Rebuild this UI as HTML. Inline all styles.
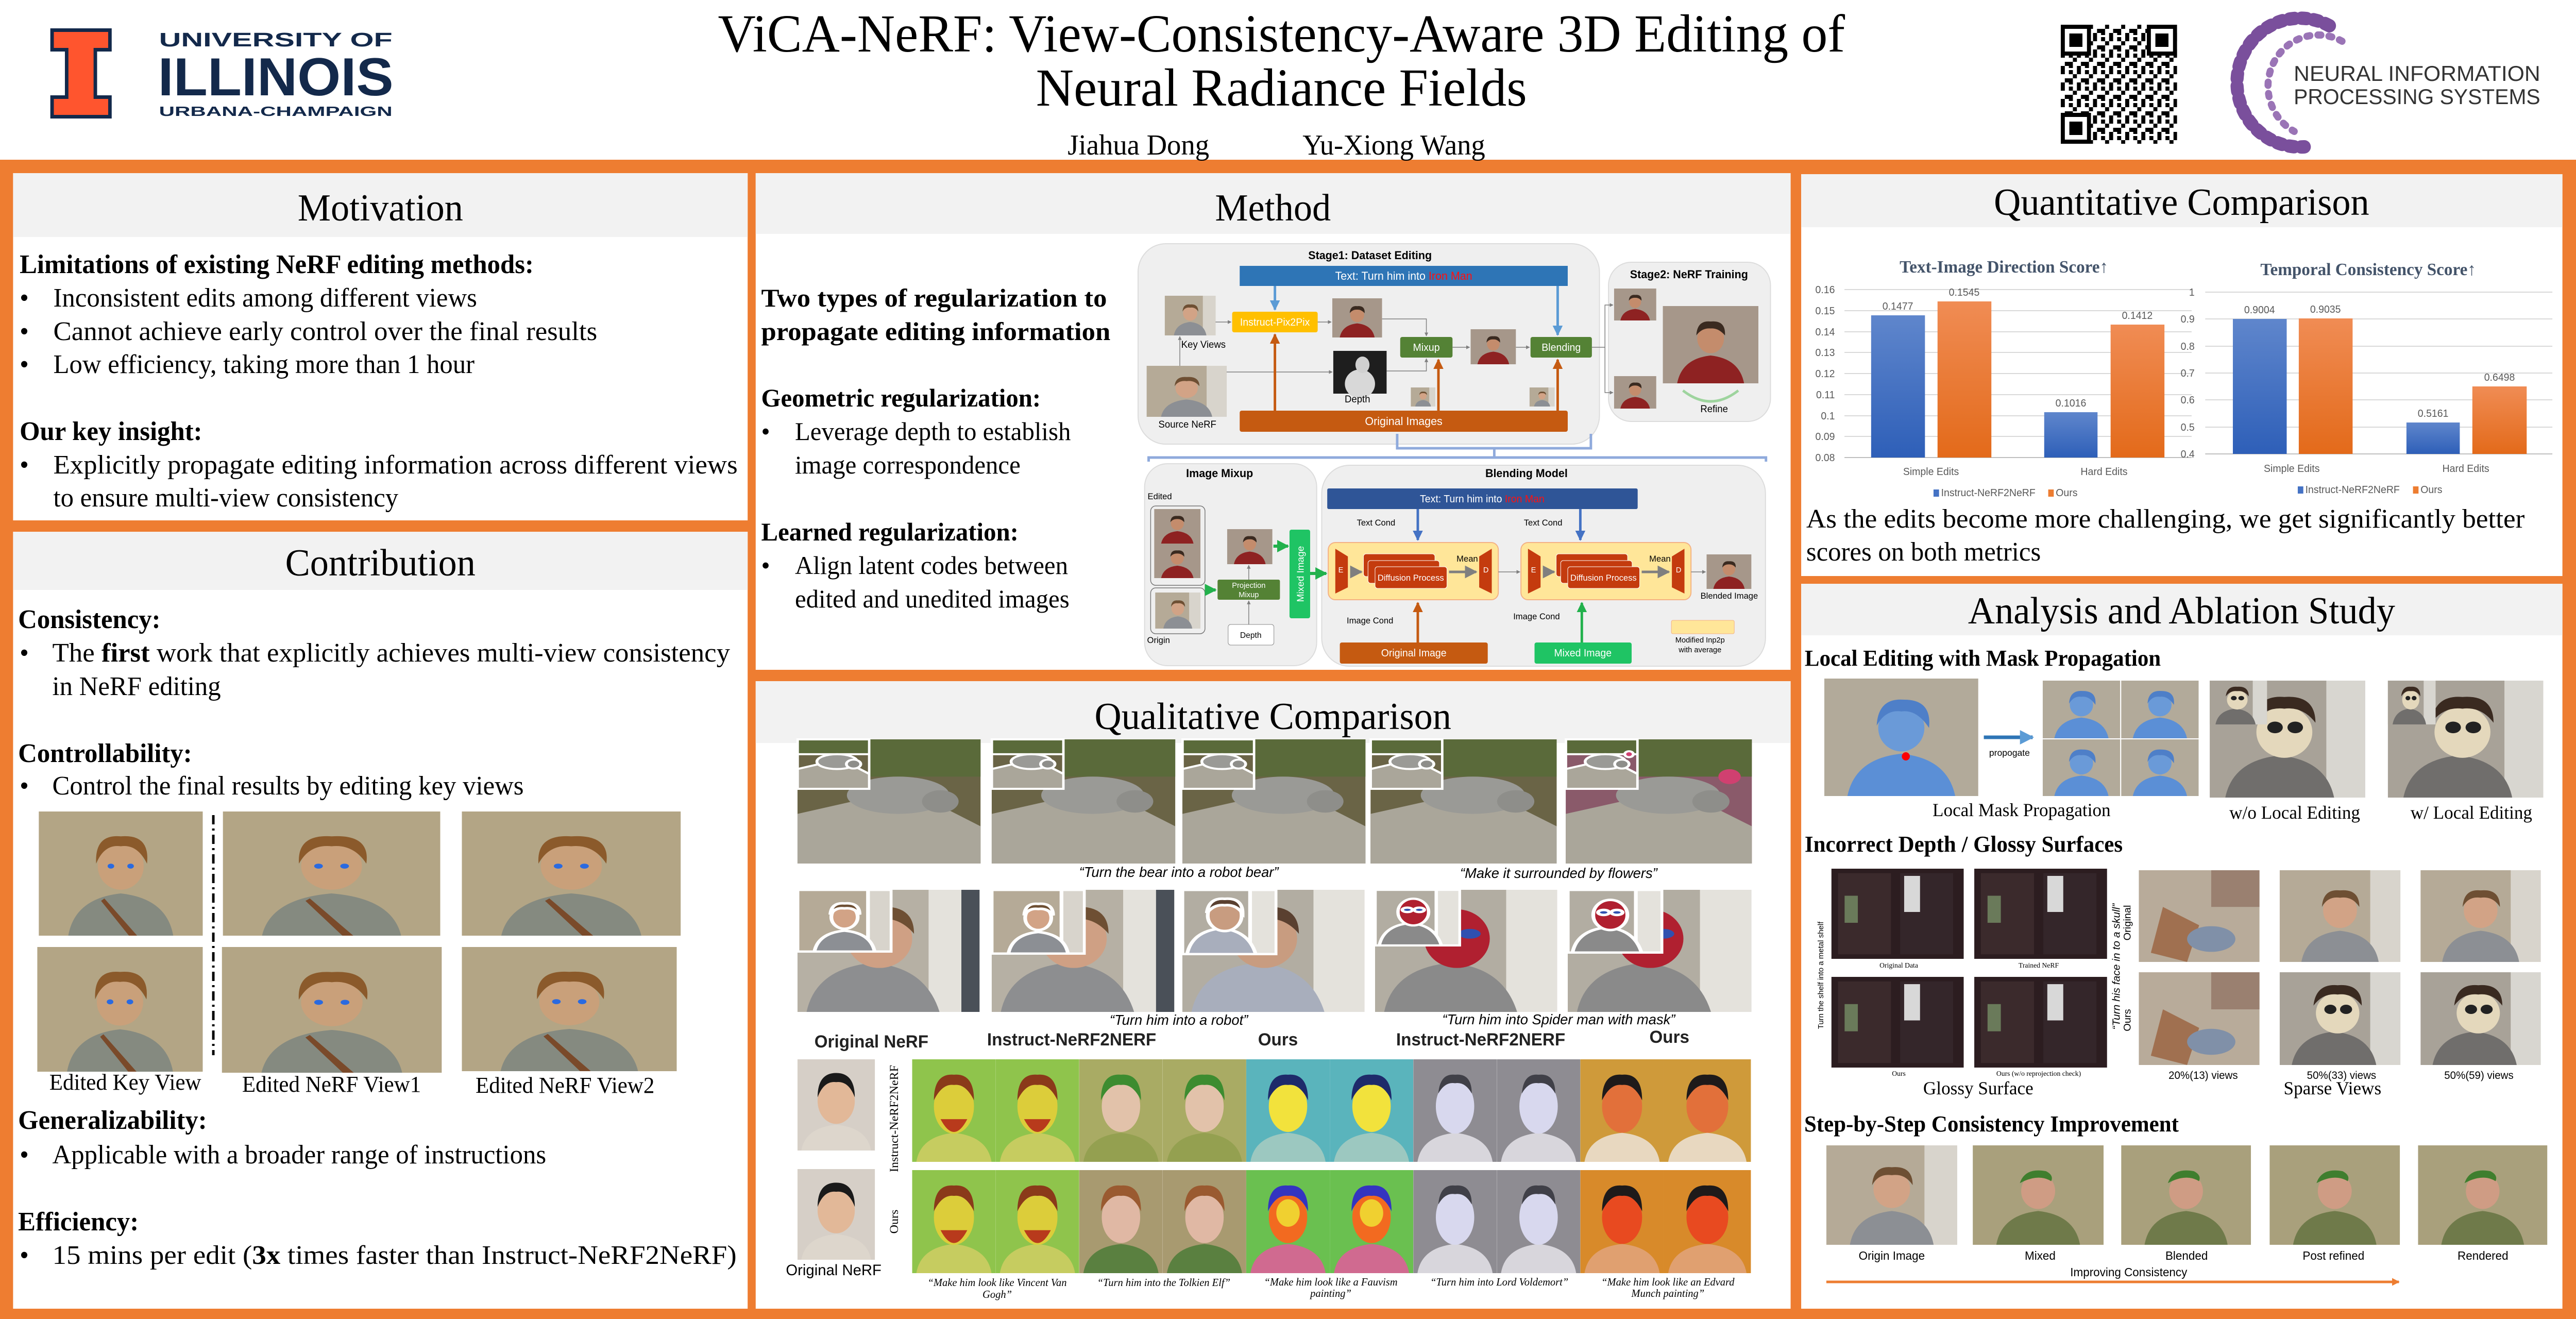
<!DOCTYPE html>
<html><head><meta charset="utf-8"><style>
html,body{margin:0;padding:0;background:#fff;overflow:hidden;width:100%;height:100%}
svg{display:block;width:100vw;height:100vh;position:absolute;left:0;top:0}
.s{font-family:"Liberation Serif",serif}
.a{font-family:"Liberation Sans",sans-serif}
</style></head><body>
<svg viewBox="0 0 5120 2560" preserveAspectRatio="none" xmlns="http://www.w3.org/2000/svg">
<defs>
<marker id="ag" viewBox="0 0 10 10" refX="9" refY="5" markerWidth="5" markerHeight="5" orient="auto"><path d="M0 0L10 5L0 10z" fill="#7f7f7f"/></marker>
<marker id="ab" viewBox="0 0 10 10" refX="9" refY="5" markerWidth="4" markerHeight="4" orient="auto"><path d="M0 0L10 5L0 10z" fill="#5b9bd5"/></marker>
<marker id="ab2" viewBox="0 0 10 10" refX="9" refY="5" markerWidth="4" markerHeight="4" orient="auto"><path d="M0 0L10 5L0 10z" fill="#4472c4"/></marker>
<marker id="ao" viewBox="0 0 10 10" refX="9" refY="5" markerWidth="4" markerHeight="4" orient="auto"><path d="M0 0L10 5L0 10z" fill="#c55a11"/></marker>
<marker id="agr" viewBox="0 0 10 10" refX="9" refY="5" markerWidth="4" markerHeight="4" orient="auto"><path d="M0 0L10 5L0 10z" fill="#22b14c"/></marker>
<marker id="aor" viewBox="0 0 10 10" refX="9" refY="5" markerWidth="3" markerHeight="3" orient="auto"><path d="M0 0L10 5L0 10z" fill="#ed7d31"/></marker>
<pattern id="qr" width="32" height="32" patternUnits="userSpaceOnUse">
<rect width="32" height="32" fill="#fff"/><rect x="0" y="0" width="8" height="16" fill="#000"/><rect x="16" y="8" width="8" height="8" fill="#000"/><rect x="8" y="24" width="16" height="8" fill="#000"/><rect x="24" y="16" width="8" height="8" fill="#000"/><rect x="16" y="0" width="8" height="4" fill="#000"/></pattern>
<symbol id="man" viewBox="0 0 100 100" preserveAspectRatio="none"><rect width="100" height="100" fill="#b5aa97"/><rect x="75" width="25" height="100" fill="#d8d4cc"/><path d="M18 100Q22 70 50 66Q78 70 82 100Z" fill="#8c8f94"/><ellipse cx="50" cy="44" rx="14" ry="19" fill="#d2a386"/><path d="M35 40Q36 20 50 22Q66 20 66 40Q60 28 50 30Q40 28 35 40Z" fill="#6e4f33"/></symbol>
<symbol id="elf" viewBox="0 0 100 100" preserveAspectRatio="none"><rect width="100" height="100" fill="#b3a585"/><path d="M18 100Q22 70 50 66Q78 70 82 100Z" fill="#858a80"/><path d="M40 70L60 100L55 100L38 72Z" fill="#7a4a2a"/><ellipse cx="50" cy="44" rx="14" ry="19" fill="#c9a07a"/><path d="M35 42Q34 18 50 20Q68 18 66 42Q60 26 50 28Q40 26 35 42Z" fill="#8b5a2b"/><circle cx="44" cy="44" r="2" fill="#2a6ae0"/><circle cx="56" cy="44" r="2" fill="#2a6ae0"/></symbol>
<symbol id="elfg" viewBox="0 0 100 100" preserveAspectRatio="none"><rect width="100" height="100" fill="#a9a07c"/><path d="M18 100Q22 70 50 66Q78 70 82 100Z" fill="#6f7a4a"/><ellipse cx="50" cy="46" rx="13" ry="18" fill="#cf9c84"/><path d="M36 38Q40 22 56 26Q62 30 60 36Q50 28 36 38Z" fill="#3f7e2e"/></symbol>
<symbol id="iron" viewBox="0 0 100 100" preserveAspectRatio="none"><rect width="100" height="100" fill="#a6978a"/><path d="M15 100Q20 68 50 64Q80 68 85 100Z" fill="#8e2222"/><ellipse cx="50" cy="42" rx="14" ry="19" fill="#c48c6c"/><path d="M35 38Q36 18 50 20Q66 18 65 38Q58 28 50 29Q41 28 35 38Z" fill="#3a2a20"/></symbol>
<symbol id="bear" viewBox="0 0 100 100" preserveAspectRatio="none"><rect width="100" height="100" fill="#6a6446"/><rect width="100" height="30" fill="#5a6a3a"/><path d="M0 60L60 40L100 70L100 100L0 100Z" fill="#aaa69a"/><ellipse cx="55" cy="45" rx="28" ry="15" fill="#9a9a96"/><ellipse cx="78" cy="50" rx="10" ry="9" fill="#8e8e8a"/></symbol>
<symbol id="bearf" viewBox="0 0 100 100" preserveAspectRatio="none"><rect width="100" height="100" fill="#8a5a6a"/><rect width="100" height="30" fill="#5a6a3a"/><path d="M0 60L60 40L100 70L100 100L0 100Z" fill="#aaa69a"/><ellipse cx="55" cy="45" rx="28" ry="15" fill="#9a9a96"/><ellipse cx="78" cy="50" rx="10" ry="9" fill="#8e8e8a"/><circle cx="88" cy="30" r="6" fill="#d04070"/></symbol>
<symbol id="bman" viewBox="0 0 100 100" preserveAspectRatio="none"><rect width="100" height="100" fill="#b6b0a4"/><rect x="72" width="28" height="100" fill="#e4e2dc"/><rect x="90" width="10" height="100" fill="#4a5058"/><path d="M5 100Q10 65 40 60Q70 62 78 100Z" fill="#8d8e90"/><ellipse cx="45" cy="40" rx="18" ry="24" fill="#cfa084"/><path d="M26 36Q28 12 45 14Q64 12 64 36Q56 22 45 24Q34 22 26 36Z" fill="#6e4f33"/></symbol>
<symbol id="robot" viewBox="0 0 100 100" preserveAspectRatio="none"><rect width="100" height="100" fill="#b2ada2"/><rect x="72" width="28" height="100" fill="#e4e2dc"/><path d="M5 100Q10 65 40 60Q70 62 78 100Z" fill="#a8aebc"/><ellipse cx="45" cy="40" rx="18" ry="24" fill="#c89c80"/><path d="M26 36Q28 12 45 14Q64 12 64 36Q56 22 45 24Q34 22 26 36Z" fill="#5a4030"/></symbol>
<symbol id="spider" viewBox="0 0 100 100" preserveAspectRatio="none"><rect width="100" height="100" fill="#b2ada2"/><rect x="72" width="28" height="100" fill="#e4e2dc"/><path d="M5 100Q10 65 40 60Q70 62 78 100Z" fill="#8a8a8a"/><ellipse cx="45" cy="40" rx="18" ry="24" fill="#b02030"/><ellipse cx="38" cy="36" rx="6" ry="4" fill="#3050b0"/><ellipse cx="52" cy="36" rx="6" ry="4" fill="#3050b0"/></symbol>
<symbol id="asian" viewBox="0 0 100 120" preserveAspectRatio="none"><rect width="100" height="120" fill="#d6cfc7"/><path d="M5 120Q10 90 50 86Q90 90 95 120Z" fill="#ddd6cc"/><ellipse cx="50" cy="55" rx="24" ry="30" fill="#e2b898"/><path d="M26 50Q26 18 50 18Q74 18 74 50Q66 28 50 30Q34 28 26 50Z" fill="#1a1a1a"/></symbol>
<symbol id="blu" viewBox="0 0 100 100" preserveAspectRatio="none"><rect width="100" height="100" fill="#b2aa9a"/><path d="M15 100Q20 68 50 64Q80 68 85 100Z" fill="#5b8fd6"/><ellipse cx="50" cy="42" rx="15" ry="20" fill="#6a9ad8"/><path d="M34 40Q35 16 52 18Q70 18 68 42Q60 26 50 28Q40 26 34 40Z" fill="#4e7fc8"/></symbol>
<symbol id="skull" viewBox="0 0 100 100" preserveAspectRatio="none"><rect width="100" height="100" fill="#a8a298"/><rect x="75" width="25" height="100" fill="#d8d6d0"/><path d="M10 100Q15 68 45 64Q75 68 80 100Z" fill="#706e6c"/><ellipse cx="48" cy="44" rx="18" ry="22" fill="#e4d8bc"/><circle cx="42" cy="40" r="5" fill="#222"/><circle cx="55" cy="40" r="5" fill="#222"/><path d="M28 36Q30 12 48 14Q68 12 68 36Q60 22 48 24Q36 22 28 36Z" fill="#3a2a20"/></symbol>
<symbol id="shelf" viewBox="0 0 100 100" preserveAspectRatio="none"><rect width="100" height="100" fill="#2c1d20"/><rect x="5" y="5" width="40" height="90" fill="#3b2a2c"/><rect x="52" y="5" width="40" height="90" fill="#34262a"/><rect x="55" y="8" width="12" height="40" fill="#d8d8d8"/><rect x="10" y="30" width="10" height="30" fill="#6a7a5a"/></symbol>
<symbol id="sparse" viewBox="0 0 100 100" preserveAspectRatio="none"><rect width="100" height="100" fill="#b8ab9a"/><rect x="60" y="0" width="40" height="40" fill="#9a8070"/><path d="M20 40L50 60L40 100L10 90Z" fill="#a07050"/><ellipse cx="60" cy="75" rx="20" ry="14" fill="#8090a8"/></symbol>
<symbol id="fvg" viewBox="0 0 100 120" preserveAspectRatio="none"><rect width="100" height="120" fill="#8fc44c"/><path d="M5 120Q10 90 50 86Q90 90 95 120Z" fill="#c6cc60"/><ellipse cx="50" cy="55" rx="24" ry="32" fill="#dccd3a"/><path d="M34 70Q50 100 66 70Z" fill="#b83a1c"/><path d="M26 48Q26 16 50 18Q74 16 74 48Q64 28 50 30Q36 28 26 48Z" fill="#8a3a1a"/></symbol>
<symbol id="felf" viewBox="0 0 100 120" preserveAspectRatio="none"><rect width="100" height="120" fill="#a9ab64"/><path d="M5 120Q10 90 50 86Q90 90 95 120Z" fill="#94a050"/><ellipse cx="50" cy="55" rx="23" ry="30" fill="#e2c2aa"/><path d="M26 48Q26 16 50 18Q74 16 74 48Q64 28 50 30Q36 28 26 48Z" fill="#3d8c30"/></symbol>
<symbol id="gelf" viewBox="0 0 100 120" preserveAspectRatio="none"><rect width="100" height="120" fill="#a89a70"/><path d="M5 120Q10 90 50 86Q90 90 95 120Z" fill="#5a8040"/><ellipse cx="50" cy="55" rx="23" ry="30" fill="#e0b8a4"/><path d="M26 48Q26 16 50 18Q74 16 74 48Q64 28 50 30Q36 28 26 48Z" fill="#9a5a30"/></symbol>
<symbol id="ffv" viewBox="0 0 100 120" preserveAspectRatio="none"><rect width="100" height="120" fill="#5ab4bc"/><path d="M5 120Q10 90 50 86Q90 90 95 120Z" fill="#9cc8c0"/><ellipse cx="50" cy="55" rx="23" ry="30" fill="#f2e23c"/><path d="M26 48Q26 16 50 18Q74 16 74 48Q64 28 50 30Q36 28 26 48Z" fill="#1e2a6a"/></symbol>
<symbol id="gfv" viewBox="0 0 100 120" preserveAspectRatio="none"><rect width="100" height="120" fill="#6ac050"/><path d="M5 120Q10 90 50 86Q90 90 95 120Z" fill="#d06a90"/><ellipse cx="50" cy="55" rx="23" ry="30" fill="#f26a20"/><ellipse cx="50" cy="50" rx="14" ry="16" fill="#f0d030"/><path d="M26 48Q26 16 50 18Q74 16 74 48Q64 28 50 30Q36 28 26 48Z" fill="#3434c0"/></symbol>
<symbol id="fvo" viewBox="0 0 100 120" preserveAspectRatio="none"><rect width="100" height="120" fill="#8e8c92"/><path d="M5 120Q10 90 50 86Q90 90 95 120Z" fill="#d8d6dc"/><ellipse cx="50" cy="55" rx="23" ry="32" fill="#d8d8ee"/><path d="M30 40Q32 16 50 18Q70 16 70 40Q62 26 50 28Q38 26 30 40Z" fill="#404048"/></symbol>
<symbol id="fmu" viewBox="0 0 100 120" preserveAspectRatio="none"><rect width="100" height="120" fill="#cf9a3a"/><path d="M5 120Q10 90 50 86Q90 90 95 120Z" fill="#e8d8c0"/><ellipse cx="50" cy="55" rx="24" ry="31" fill="#e2703a"/><path d="M26 48Q26 16 50 18Q74 16 74 48Q64 28 50 30Q36 28 26 48Z" fill="#1e1a1a"/></symbol>
<symbol id="gmu" viewBox="0 0 100 120" preserveAspectRatio="none"><rect width="100" height="120" fill="#d88a2a"/><path d="M5 120Q10 90 50 86Q90 90 95 120Z" fill="#e0a070"/><ellipse cx="50" cy="55" rx="24" ry="31" fill="#e84a20"/><path d="M26 48Q26 16 50 18Q74 16 74 48Q64 28 50 30Q36 28 26 48Z" fill="#1e1a1a"/></symbol>
</defs>

<!-- header -->
<rect width="5120" height="2560" fill="#ee7d31"/>
<rect width="5120" height="310" fill="#fff"/>
<polygon points="100,55 222,55 222,100 193,100 193,185 222,185 222,230 100,230 100,185 129,185 129,100 100,100" fill="#13294b"/>
<polygon points="107,62 215,62 215,93 186,93 186,192 215,192 215,223 107,223 107,192 136,192 136,93 107,93" fill="#ff552e"/>
<g class="a" fill="#13294b" font-weight="bold">
<text x="316" y="90" font-size="38" textLength="464" lengthAdjust="spacingAndGlyphs">UNIVERSITY OF</text>
<text x="314" y="185" font-size="104" textLength="468" lengthAdjust="spacingAndGlyphs">ILLINOIS</text>
<text x="316" y="225" font-size="26" textLength="464" lengthAdjust="spacingAndGlyphs">URBANA-CHAMPAIGN</text>
</g>
<g class="s" font-size="104" text-anchor="middle" fill="#000">
<text x="2547" y="100">ViCA-NeRF: View-Consistency-Aware 3D Editing of</text>
<text x="2547" y="205">Neural Radiance Fields</text>
</g>
<g class="s" font-size="56" fill="#000">
<text x="2122" y="300">Jiahua Dong</text>
<text x="2589" y="300">Yu-Xiong Wang</text>
</g>
<rect x="4096" y="48" width="231" height="231" fill="url(#qr)"/>
<g fill="#000"><rect x="4096" y="48" width="60" height="60"/><rect x="4267" y="48" width="60" height="60"/><rect x="4096" y="219" width="60" height="60"/></g>
<g fill="#fff"><rect x="4104" y="56" width="44" height="44"/><rect x="4275" y="56" width="44" height="44"/><rect x="4104" y="227" width="44" height="44"/></g>
<g fill="#000"><rect x="4113" y="65" width="26" height="26"/><rect x="4284" y="65" width="26" height="26"/><rect x="4113" y="236" width="26" height="26"/></g>
<path d="M4630 50 A 125 125 0 1 0 4580 285" fill="none" stroke="#7a4f9c" stroke-width="26" stroke-dasharray="10 14" stroke-linecap="round"/>
<path d="M4655 80 A 95 95 0 1 0 4560 255" fill="none" stroke="#9a74b6" stroke-width="14" stroke-dasharray="6 16" stroke-linecap="round"/>
<g class="a" fill="#333" font-size="42">
<text x="4559" y="157" textLength="490" lengthAdjust="spacingAndGlyphs">NEURAL INFORMATION</text>
<text x="4559" y="202" textLength="490" lengthAdjust="spacingAndGlyphs">PROCESSING SYSTEMS</text>
</g>

<!-- panels -->
<g fill="#fff">
<rect x="26" y="336" width="1460" height="674"/>
<rect x="26" y="1032" width="1460" height="1508"/>
<rect x="1502" y="336" width="2057" height="964"/>
<rect x="1502" y="1322" width="2057" height="1218"/>
<rect x="3580" y="338" width="1513" height="780"/>
<rect x="3580" y="1133" width="1513" height="1407"/>
</g>
<g fill="#f2f2f2">
<rect x="26" y="336" width="1460" height="124"/>
<rect x="26" y="1032" width="1460" height="113"/>
<rect x="1502" y="336" width="2057" height="118"/>
<rect x="1502" y="1322" width="2057" height="120"/>
<rect x="3580" y="338" width="1513" height="103"/>
<rect x="3580" y="1133" width="1513" height="100"/>
</g>
<g class="s" font-size="74" text-anchor="middle" fill="#000">
<text x="756" y="428">Motivation</text>
<text x="756" y="1117">Contribution</text>
<text x="2530" y="428">Method</text>
<text x="2530" y="1415">Qualitative Comparison</text>
<text x="4336" y="417">Quantitative Comparison</text>
<text x="4336" y="1210">Analysis and Ablation Study</text>
</g>

<!-- Motivation -->
<g class="s" font-size="52" fill="#000">
<text x="39" y="530" font-weight="bold">Limitations of existing NeRF editing methods:</text>
<text x="39" y="595">•</text><text x="106" y="595">Inconsistent edits among different views</text>
<text x="39" y="660">•</text><text x="106" y="660" textLength="1081" lengthAdjust="spacingAndGlyphs">Cannot achieve early control over the final results</text>
<text x="39" y="724">•</text><text x="106" y="724">Low efficiency, taking more than 1 hour</text>
<text x="39" y="854" font-weight="bold">Our key insight:</text>
<text x="39" y="919">•</text><text x="106" y="919" textLength="1360" lengthAdjust="spacingAndGlyphs">Explicitly propagate editing information across different views</text>
<text x="106" y="983">to ensure multi-view consistency</text>
</g>

<!-- Contribution -->
<g class="s" font-size="52" fill="#000">
<text x="36" y="1219" font-weight="bold">Consistency:</text>
<text x="39" y="1284">•</text><text x="104" y="1284" textLength="1347" lengthAdjust="spacingAndGlyphs">The <tspan font-weight="bold">first</tspan> work that explicitly achieves multi-view consistency</text>
<text x="104" y="1349">in NeRF editing</text>
<text x="36" y="1479" font-weight="bold">Controllability:</text>
<text x="39" y="1542">•</text><text x="104" y="1542">Control the final results by editing key views</text>
<text x="36" y="2191" font-weight="bold">Generalizability:</text>
<text x="39" y="2258">•</text><text x="104" y="2258">Applicable with a broader range of instructions</text>
<text x="36" y="2388" font-weight="bold">Efficiency:</text>
<text x="39" y="2453">•</text><text x="104" y="2453" textLength="1360" lengthAdjust="spacingAndGlyphs">15 mins per edit (<tspan font-weight="bold">3x</tspan> times faster than Instruct-NeRF2NeRF)</text>
</g>
<use href="#elf" x="77" y="1575" width="326" height="241"/>
<use href="#elf" x="74" y="1838" width="329" height="242"/>
<use href="#elf" x="443" y="1575" width="432" height="241"/>
<use href="#elf" x="441" y="1838" width="437" height="244"/>
<use href="#elf" x="918" y="1575" width="435" height="241"/>
<use href="#elf" x="918" y="1838" width="427" height="241"/>
<line x1="424" y1="1582" x2="424" y2="2048" stroke="#000" stroke-width="5" stroke-dasharray="18 8 4 8"/>
<g class="s" font-size="44" text-anchor="middle" fill="#000">
<text x="249" y="2115">Edited Key View</text>
<text x="659" y="2119">Edited NeRF View1</text>
<text x="1123" y="2121">Edited NeRF View2</text>
</g>

<!-- Method text -->
<g class="s" font-size="50" fill="#000">
<text x="1513" y="595" font-weight="bold" textLength="687" lengthAdjust="spacingAndGlyphs">Two types of regularization to</text>
<text x="1513" y="660" font-weight="bold" textLength="694" lengthAdjust="spacingAndGlyphs">propagate editing information</text>
<text x="1513" y="789" font-weight="bold">Geometric regularization:</text>
<text x="1513" y="854">•</text><text x="1580" y="854">Leverage depth to establish</text>
<text x="1580" y="919">image correspondence</text>
<text x="1513" y="1049" font-weight="bold">Learned regularization:</text>
<text x="1513" y="1114">•</text><text x="1580" y="1114">Align latent codes between</text>
<text x="1580" y="1179">edited and unedited images</text>
</g>

<!-- Method diagram -->
<rect x="2262" y="473" width="917" height="389" rx="55" fill="#efefef" stroke="#dcdcdc" stroke-width="2"/>
<rect x="3197" y="509" width="322" height="309" rx="45" fill="#efefef" stroke="#dcdcdc" stroke-width="2"/>
<g class="a" font-weight="bold" font-size="22" fill="#000" text-anchor="middle">
<text x="2723" y="503">Stage1: Dataset Editing</text>
<text x="3357" y="540">Stage2: NeRF Training</text>
</g>
<rect x="2464" y="516" width="652" height="39" fill="#2e75b6"/>
<text x="2790" y="543" class="a" font-size="22" fill="#fff" text-anchor="middle">Text: Turn him into <tspan fill="#ff1010">Iron Man</tspan></text>
<rect x="2449" y="605" width="170" height="40" rx="4" fill="#ffc000"/>
<text x="2534" y="632" class="a" font-size="20" fill="#fff" text-anchor="middle">Instruct-Pix2Pix</text>
<rect x="2783" y="654" width="104" height="40" rx="4" fill="#548235"/>
<text x="2835" y="681" class="a" font-size="20" fill="#fff" text-anchor="middle">Mixup</text>
<rect x="3042" y="654" width="122" height="40" rx="4" fill="#548235"/>
<text x="3103" y="681" class="a" font-size="20" fill="#fff" text-anchor="middle">Blending</text>
<rect x="2464" y="797" width="652" height="41" rx="4" fill="#c55a11"/>
<text x="2790" y="825" class="a" font-size="22" fill="#fff" text-anchor="middle">Original Images</text>
<use href="#man" x="2315" y="574" width="101" height="77"/>
<use href="#man" x="2279" y="710" width="159" height="99"/>
<use href="#iron" x="2648" y="579" width="99" height="76"/>
<rect x="2650" y="681" width="106" height="83" fill="#1e1e1e"/><ellipse cx="2703" cy="745" rx="30" ry="28" fill="#d8d8d8"/><ellipse cx="2708" cy="708" rx="14" ry="16" fill="#d0d0d0"/>
<use href="#iron" x="2923" y="639" width="90" height="68"/>
<use href="#man" x="2804" y="752" width="49" height="37"/>
<use href="#man" x="3040" y="752" width="50" height="37"/>
<use href="#iron" x="3208" y="560" width="84" height="62"/>
<use href="#iron" x="3208" y="730" width="84" height="63"/>
<use href="#iron" x="3305" y="594" width="190" height="150"/>
<path d="M3345 758 Q3400 800 3455 758" fill="none" stroke="#9ed49e" stroke-width="5"/>
<g class="a" font-size="19" fill="#000" text-anchor="middle">
<text x="2392" y="675">Key Views</text><text x="2360" y="830">Source NeRF</text><text x="2698" y="781">Depth</text><text x="3407" y="800">Refine</text>
</g>
<g stroke="#7f7f7f" stroke-width="1.5" fill="none">
<path d="M2416 625H2447" marker-end="url(#ag)"/><path d="M2345 710V653" marker-end="url(#ag)"/><path d="M2619 625H2646" marker-end="url(#ag)"/>
<path d="M2747 619H2835V652" marker-end="url(#ag)"/><path d="M2438 722H2648" marker-end="url(#ag)"/><path d="M2756 720H2835V696" marker-end="url(#ag)"/>
<path d="M2887 674H2921" marker-end="url(#ag)"/><path d="M3013 674H3040" marker-end="url(#ag)"/>
<path d="M3164 674H3190V592H3206" marker-end="url(#ag)"/><path d="M3190 674V762H3206" marker-end="url(#ag)"/>
</g>
<g stroke="#5b9bd5" stroke-width="5" fill="none"><path d="M2534 555V601" marker-end="url(#ab)"/><path d="M3096 555V650" marker-end="url(#ab)"/></g>
<g stroke="#c55a11" stroke-width="5" fill="none"><path d="M2534 797V649" marker-end="url(#ao)"/><path d="M2859 797V698" marker-end="url(#ao)"/><path d="M3096 797V698" marker-end="url(#ao)"/></g>
<path d="M2777 842V870H3162V842M2970 870V888M2283 896V888H3510V896" fill="none" stroke="#8faadc" stroke-width="5"/>
<rect x="2275" y="900" width="342" height="392" rx="45" fill="#efefef" stroke="#dcdcdc" stroke-width="2"/>
<rect x="2627" y="903" width="882" height="390" rx="55" fill="#efefef" stroke="#dcdcdc" stroke-width="2"/>
<g class="a" font-weight="bold" font-size="22" fill="#000" text-anchor="middle"><text x="2424" y="926">Image Mixup</text><text x="3034" y="926">Blending Model</text></g>
<g class="a" font-size="17" fill="#000"><text x="2281" y="969">Edited</text><text x="2280" y="1248">Origin</text></g>
<rect x="2287" y="982" width="108" height="154" rx="10" fill="none" stroke="#777" stroke-width="1.5"/>
<use href="#iron" x="2294" y="988" width="92" height="67"/><use href="#iron" x="2294" y="1055" width="92" height="67"/>
<rect x="2287" y="1141" width="108" height="89" rx="10" fill="none" stroke="#777" stroke-width="1.5"/>
<use href="#man" x="2296" y="1150" width="90" height="70"/>
<use href="#iron" x="2439" y="1027" width="90" height="68"/>
<rect x="2420" y="1125" width="124" height="39" rx="3" fill="#548235"/>
<text x="2482" y="1141" class="a" font-size="15" fill="#fff" text-anchor="middle">Projection</text><text x="2482" y="1159" class="a" font-size="15" fill="#fff" text-anchor="middle">Mixup</text>
<rect x="2441" y="1212" width="91" height="40" rx="5" fill="#fff" stroke="#888"/><text x="2486" y="1238" class="a" font-size="16" text-anchor="middle">Depth</text>
<rect x="2563" y="1028" width="41" height="172" rx="4" fill="#1fc464"/>
<text transform="translate(2591 1114) rotate(-90)" class="a" font-size="19" fill="#fff" text-anchor="middle">Mixed Image</text>
<g stroke="#7f7f7f" stroke-width="1.5"><path d="M2482 1125V1097" marker-end="url(#ag)"/><path d="M2482 1212V1166" marker-end="url(#ag)"/></g>
<g stroke="#22b14c" stroke-width="6"><path d="M2398 1145H2416" marker-end="url(#agr)"/><path d="M2531 1060H2560" marker-end="url(#agr)"/><path d="M2604 1113H2636" marker-end="url(#agr)"/></g>
<rect x="2638" y="948" width="617" height="40" rx="3" fill="#2f5597"/>
<text x="2946" y="975" class="a" font-size="20" fill="#fff" text-anchor="middle">Text: Turn him into <tspan fill="#ff1010">Iron Man</tspan></text>
<g id="bm">
<rect x="2640" y="1053" width="338" height="111" rx="14" fill="#ffe699" stroke="#f4b183" stroke-width="2"/>
<polygon points="2654,1065 2679,1080 2679,1140 2654,1152" fill="#c43b0e"/>
<polygon points="2965,1065 2940,1080 2940,1140 2965,1152" fill="#c43b0e"/>
<rect x="2710" y="1075" width="142" height="44" rx="5" fill="#c43b0e" stroke="#fff"/>
<rect x="2719" y="1088" width="142" height="44" rx="5" fill="#c43b0e" stroke="#fff"/>
<rect x="2733" y="1100" width="143" height="42" rx="5" fill="#c43b0e" stroke="#fff"/>
<text x="2804" y="1127" class="a" font-size="17" fill="#fff" text-anchor="middle">Diffusion Process</text>
<text x="2660" y="1111" class="a" font-size="15" fill="#fff">E</text><text x="2948" y="1111" class="a" font-size="15" fill="#fff">D</text>
<text x="2895" y="1090" class="a" font-size="17">Mean</text>
<path d="M2689 1110H2706" stroke="#7f7f7f" stroke-width="5" marker-end="url(#ag)"/>
<path d="M2880 1110H2934" stroke="#7f7f7f" stroke-width="5" marker-end="url(#ag)"/>
</g>
<use href="#bm" x="383"/>
<path d="M2978 1110H3021" stroke="#7f7f7f" stroke-width="1.5" marker-end="url(#ag)"/>
<path d="M3361 1110H3390" stroke="#7f7f7f" stroke-width="1.5" marker-end="url(#ag)"/>
<use href="#iron" x="3392" y="1076" width="89" height="67"/>
<g class="a" font-size="17" fill="#000" text-anchor="middle">
<text x="2735" y="1020">Text Cond</text><text x="3067" y="1020">Text Cond</text>
<text x="2723" y="1210">Image Cond</text><text x="3054" y="1202">Image Cond</text>
<text x="3437" y="1162">Blended Image</text><text x="3379" y="1247" font-size="15">Modified Inp2p</text><text x="3379" y="1266" font-size="15">with average</text>
</g>
<g stroke="#4472c4" stroke-width="5"><path d="M2818 988V1048" marker-end="url(#ab2)"/><path d="M3141 988V1048" marker-end="url(#ab2)"/></g>
<rect x="2663" y="1247" width="294" height="41" rx="4" fill="#c55a11"/><text x="2810" y="1274" class="a" font-size="20" fill="#fff" text-anchor="middle">Original Image</text>
<rect x="3050" y="1247" width="193" height="41" rx="4" fill="#1fc464"/><text x="3146" y="1274" class="a" font-size="20" fill="#fff" text-anchor="middle">Mixed Image</text>
<path d="M2818 1247V1170" stroke="#c55a11" stroke-width="5" marker-end="url(#ao)"/>
<path d="M3144 1247V1170" stroke="#22b14c" stroke-width="5" marker-end="url(#agr)"/>
<rect x="3322" y="1204" width="125" height="26" rx="3" fill="#ffe699" stroke="#f4b183"/>

<!-- Qualitative -->
<use href="#bear" x="1585" y="1435" width="364" height="241"/>
<use href="#bear" x="1971" y="1435" width="365" height="241"/>
<use href="#bear" x="2350" y="1435" width="364" height="241"/>
<use href="#bear" x="2724" y="1435" width="370" height="241"/>
<use href="#bearf" x="3112" y="1435" width="370" height="241"/>
<g fill="none" stroke="#fff" stroke-width="4">
<use href="#bear" x="1585" y="1435" width="143" height="96"/><rect x="1585" y="1435" width="143" height="96"/>
<use href="#bear" x="1971" y="1435" width="143" height="96"/><rect x="1971" y="1435" width="143" height="96"/>
<use href="#bear" x="2350" y="1435" width="143" height="96"/><rect x="2350" y="1435" width="143" height="96"/>
<use href="#bear" x="2724" y="1435" width="143" height="96"/><rect x="2724" y="1435" width="143" height="96"/>
<use href="#bearf" x="3112" y="1435" width="143" height="96"/><rect x="3112" y="1435" width="143" height="96"/>
</g>
<use href="#bman" x="1585" y="1727" width="362" height="237"/>
<use href="#bman" x="1971" y="1727" width="363" height="237"/>
<use href="#robot" x="2350" y="1727" width="362" height="237"/>
<use href="#spider" x="2733" y="1727" width="362" height="237"/>
<use href="#spider" x="3116" y="1727" width="365" height="237"/>
<g fill="none" stroke="#fff" stroke-width="4">
<use href="#man" x="1585" y="1727" width="187" height="120"/><rect x="1585" y="1727" width="187" height="120"/>
<use href="#man" x="1971" y="1727" width="185" height="124"/><rect x="1971" y="1727" width="185" height="124"/>
<use href="#robot" x="2350" y="1727" width="187" height="125"/><rect x="2350" y="1727" width="187" height="125"/>
<use href="#spider" x="2733" y="1727" width="169" height="108"/><rect x="2733" y="1727" width="169" height="108"/>
<use href="#spider" x="3116" y="1727" width="188" height="122"/><rect x="3116" y="1727" width="188" height="122"/>
</g>
<g class="a" font-style="italic" font-size="28" fill="#000" text-anchor="middle">
<text x="2343" y="1702">“Turn the bear into a robot bear”</text>
<text x="3098" y="1704">“Make it surrounded by flowers”</text>
<text x="2343" y="1989">“Turn him into a robot”</text>
<text x="3098" y="1988">“Turn him into Spider man with mask”</text>
</g>
<g class="a" font-weight="bold" font-size="34" fill="#222" text-anchor="middle">
<text x="1732" y="2033">Original NeRF</text>
<text x="2130" y="2029">Instruct-NeRF2NERF</text>
<text x="2540" y="2029">Ours</text>
<text x="2943" y="2029">Instruct-NeRF2NERF</text>
<text x="3318" y="2024">Ours</text>
</g>
<use href="#asian" x="1585" y="2056" width="154" height="177"/>
<use href="#asian" x="1585" y="2269" width="154" height="176"/>
<text x="1657" y="2475" class="a" font-size="30" text-anchor="middle">Original NeRF</text>
<text transform="translate(1785 2171) rotate(-90)" class="s" font-size="24" text-anchor="middle">Instruct-NeRF2NeRF</text>
<text transform="translate(1785 2371) rotate(-90)" class="s" font-size="24" text-anchor="middle">Ours</text>
<use href="#fvg" x="1813" y="2056" width="166" height="199"/><use href="#fvg" x="1979" y="2056" width="166" height="199"/>
<use href="#felf" x="2145" y="2056" width="166" height="199"/><use href="#felf" x="2311" y="2056" width="166" height="199"/>
<use href="#ffv" x="2477" y="2056" width="166" height="199"/><use href="#ffv" x="2643" y="2056" width="166" height="199"/>
<use href="#fvo" x="2809" y="2056" width="166" height="199"/><use href="#fvo" x="2975" y="2056" width="166" height="199"/>
<use href="#fmu" x="3141" y="2056" width="166" height="199"/><use href="#fmu" x="3307" y="2056" width="173" height="199"/>
<use href="#fvg" x="1813" y="2271" width="166" height="200"/><use href="#fvg" x="1979" y="2271" width="166" height="200"/>
<use href="#gelf" x="2145" y="2271" width="166" height="200"/><use href="#gelf" x="2311" y="2271" width="166" height="200"/>
<use href="#gfv" x="2477" y="2271" width="166" height="200"/><use href="#gfv" x="2643" y="2271" width="166" height="200"/>
<use href="#fvo" x="2809" y="2271" width="166" height="200"/><use href="#fvo" x="2975" y="2271" width="166" height="200"/>
<use href="#gmu" x="3141" y="2271" width="166" height="200"/><use href="#gmu" x="3307" y="2271" width="173" height="200"/>
<g class="s" font-style="italic" font-size="21" fill="#000" text-anchor="middle">
<text x="1982" y="2496">“Make him look like Vincent Van</text><text x="1982" y="2519">Gogh”</text>
<text x="2313" y="2496">“Turn him into the Tolkien Elf”</text>
<text x="2645" y="2495">“Make him look like a Fauvism</text><text x="2645" y="2517">painting”</text>
<text x="2980" y="2495">“Turn him into Lord Voldemort”</text>
<text x="3315" y="2495">“Make him look like an Edvard</text><text x="3315" y="2517">Munch painting”</text>
</g>

<!-- Quantitative -->
<g class="s" font-weight="bold" font-size="34" fill="#44546a" text-anchor="middle">
<text x="3983" y="529">Text-Image Direction Score↑</text>
<text x="4707" y="534">Temporal Consistency Score↑</text>
</g>
<linearGradient id="gb" x1="0" y1="0" x2="0" y2="1"><stop offset="0" stop-color="#5f86cc"/><stop offset="1" stop-color="#2e5fb8"/></linearGradient>
<linearGradient id="go" x1="0" y1="0" x2="0" y2="1"><stop offset="0" stop-color="#f08c54"/><stop offset="1" stop-color="#e36a1a"/></linearGradient>
<g stroke="#d9d9d9" stroke-width="2">
<path d="M3666 562H4356M3666 603H4356M3666 644H4356M3666 684H4356M3666 725H4356M3666 766H4356M3666 807H4356M3666 847H4356"/>
<path d="M4383 567H5073M4383 619H5073M4383 672H5073M4383 724H5073M4383 776H5073M4383 829H5073"/>
</g>
<g stroke="#bfbfbf" stroke-width="2"><path d="M3666 888H4356M4383 881H5073"/></g>
<rect x="3719" y="612" width="107" height="276" fill="url(#gb)"/>
<rect x="3851" y="585" width="107" height="303" fill="url(#go)"/>
<rect x="4063" y="800" width="106" height="88" fill="url(#gb)"/>
<rect x="4195" y="630" width="107" height="258" fill="url(#go)"/>
<rect x="4438" y="619" width="107" height="262" fill="url(#gb)"/>
<rect x="4569" y="618" width="107" height="263" fill="url(#go)"/>
<rect x="4783" y="820" width="106" height="61" fill="url(#gb)"/>
<rect x="4914" y="750" width="108" height="131" fill="url(#go)"/>
<g class="a" font-size="20" fill="#595959">
<g text-anchor="end">
<text x="3647" y="569">0.16</text><text x="3647" y="610">0.15</text><text x="3647" y="651">0.14</text><text x="3647" y="691">0.13</text><text x="3647" y="732">0.12</text><text x="3647" y="773">0.11</text><text x="3647" y="814">0.1</text><text x="3647" y="854">0.09</text><text x="3647" y="895">0.08</text>
<text x="4362" y="574">1</text><text x="4362" y="626">0.9</text><text x="4362" y="679">0.8</text><text x="4362" y="731">0.7</text><text x="4362" y="783">0.6</text><text x="4362" y="836">0.5</text><text x="4362" y="888">0.4</text>
</g>
<g text-anchor="middle">
<text x="3772" y="601">0.1477</text><text x="3904" y="574">0.1545</text><text x="4116" y="789">0.1016</text><text x="4248" y="619">0.1412</text>
<text x="4491" y="608">0.9004</text><text x="4622" y="607">0.9035</text><text x="4836" y="809">0.5161</text><text x="4968" y="739">0.6498</text>
<text x="3838" y="922">Simple Edits</text><text x="4182" y="922">Hard Edits</text>
<text x="4555" y="916">Simple Edits</text><text x="4901" y="916">Hard Edits</text>
</g>
<rect x="3843" y="950" width="11" height="14" fill="#4472c4"/><text x="3858" y="963">Instruct-NeRF2NeRF</text>
<rect x="4071" y="950" width="11" height="14" fill="#ed7d31"/><text x="4086" y="963">Ours</text>
<rect x="4567" y="944" width="11" height="14" fill="#4472c4"/><text x="4582" y="957">Instruct-NeRF2NeRF</text>
<rect x="4796" y="944" width="11" height="14" fill="#ed7d31"/><text x="4811" y="957">Ours</text>
</g>
<g class="s" font-size="52" fill="#000">
<text x="3590" y="1024" textLength="1428" lengthAdjust="spacingAndGlyphs">As the edits become more challenging, we get significantly better</text>
<text x="3590" y="1088">scores on both metrics</text>
</g>

<!-- Analysis -->
<g class="s" font-weight="bold" font-size="44" fill="#000">
<text x="3587" y="1292">Local Editing with Mask Propagation</text>
<text x="3587" y="1653">Incorrect Depth / Glossy Surfaces</text>
<text x="3586" y="2196">Step-by-Step Consistency Improvement</text>
</g>
<use href="#blu" x="3626" y="1317" width="306" height="228"/>
<circle cx="3788" cy="1468" r="8" fill="#f00"/>
<path d="M3943 1431H4040" stroke="#2e75b6" stroke-width="7" marker-end="url(#ab)"/>
<text x="3994" y="1467" class="a" font-size="18" text-anchor="middle">propogate</text>
<use href="#blu" x="4060" y="1321" width="154" height="112"/><use href="#blu" x="4216" y="1321" width="154" height="112"/>
<use href="#blu" x="4060" y="1435" width="154" height="110"/><use href="#blu" x="4216" y="1435" width="154" height="110"/>
<use href="#skull" x="4392" y="1321" width="309" height="227"/>
<use href="#skull" x="4746" y="1321" width="309" height="227"/>
<use href="#skull" x="4392" y="1321" width="114" height="85"/><use href="#skull" x="4746" y="1321" width="95" height="85"/>
<g class="s" font-size="36" fill="#000" text-anchor="middle">
<text x="4018" y="1584">Local Mask Propagation</text><text x="4561" y="1589">w/o Local Editing</text><text x="4912" y="1589">w/ Local Editing</text>
<text x="3932" y="2124">Glossy Surface</text><text x="4636" y="2124">Sparse Views</text>
</g>
<use href="#shelf" x="3640" y="1686" width="263" height="175"/><use href="#shelf" x="3924" y="1686" width="264" height="175"/>
<use href="#shelf" x="3640" y="1896" width="263" height="176"/><use href="#shelf" x="3924" y="1896" width="264" height="176"/>
<g class="s" font-size="14" fill="#000" text-anchor="middle">
<text x="3774" y="1878">Original Data</text><text x="4052" y="1878">Trained NeRF</text><text x="3774" y="2088">Ours</text><text x="4052" y="2088">Ours (w/o reprojection check)</text>
</g>
<text transform="translate(3624 1893) rotate(-90)" class="a" font-size="15" text-anchor="middle">Turn the shelf into a metal shelf</text>
<text transform="translate(4213 1876) rotate(-90)" class="a" font-style="italic" font-size="21" text-anchor="middle">“Turn his face in to a skull”</text>
<text transform="translate(4235 1791) rotate(-90)" class="a" font-size="20" text-anchor="middle">Original</text>
<text transform="translate(4235 1980) rotate(-90)" class="a" font-size="20" text-anchor="middle">Ours</text>
<use href="#sparse" x="4251" y="1689" width="240" height="178"/><use href="#man" x="4531" y="1689" width="240" height="178"/><use href="#man" x="4811" y="1689" width="239" height="178"/>
<use href="#sparse" x="4251" y="1887" width="240" height="180"/><use href="#skull" x="4531" y="1887" width="240" height="180"/><use href="#skull" x="4811" y="1887" width="239" height="180"/>
<g class="a" font-size="21" fill="#000" text-anchor="middle">
<text x="4379" y="2094">20%(13) views</text><text x="4654" y="2094">50%(33) views</text><text x="4927" y="2094">50%(59) views</text>
</g>
<use href="#man" x="3630" y="2223" width="260" height="193"/>
<use href="#elfg" x="3921" y="2223" width="260" height="193"/>
<use href="#elfg" x="4216" y="2223" width="258" height="193"/>
<use href="#elfg" x="4511" y="2223" width="259" height="193"/>
<use href="#elfg" x="4806" y="2223" width="257" height="193"/>
<g class="a" font-size="23" fill="#000" text-anchor="middle">
<text x="3760" y="2445">Origin Image</text><text x="4055" y="2445">Mixed</text><text x="4346" y="2445">Blended</text><text x="4638" y="2445">Post refined</text><text x="4935" y="2445">Rendered</text>
<text x="4231" y="2477">Improving Consistency</text>
</g>
<path d="M3630 2488H4768" stroke="#ed7d31" stroke-width="5" marker-end="url(#aor)"/>
</svg>
</body></html>
